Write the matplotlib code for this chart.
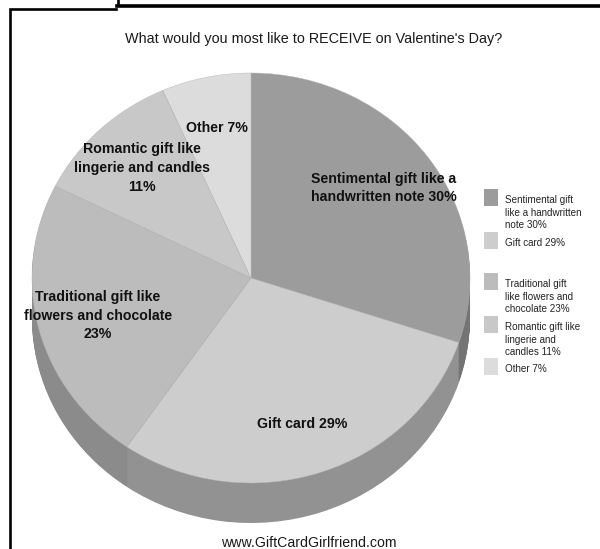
import numpy as np
import matplotlib
matplotlib.use("Agg")
import matplotlib.pyplot as plt
from matplotlib.patches import Rectangle

plt.rcParams['font.family'] = ['Liberation Sans', 'DejaVu Sans']

# 0. Data, slice sizes (labels are rounded)
shares = [30.1, 29.5, 22.8, 11.0, 6.6]
top_colors = ['#9c9c9c', '#cdcdcd', '#bcbcbc', '#c8c8c8', '#dcdcdc']
wall_colors = ['#747474', '#929292', '#8b8b8b', '#8e8e8e', '#a0a0a0']
legend_labels = ['Sentimental gift\nlike a handwritten\nnote 30%',
                 'Gift card 29%',
                 'Traditional gift\nlike flowers and\nchocolate 23%',
                 'Romantic gift like\nlingerie and\ncandles 11%',
                 'Other 7%']
pie_labels = ['Sentimental gift like a\nhandwritten note 30%',
              'Gift card 29%',
              'Traditional gift like\nflowers and chocolate\n23%',
              'Romantic gift like\nlingerie and candles\n11%',
              'Other 7%']
label_xy = [(384, 188), (302, 424), (98, 315.5), (142, 168), (217, 128)]
legend_y = [189, 232, 273, 316, 358]

# 1. Figure, full size overlay in pixels
W, H = 600, 549
fig = plt.figure(figsize=(W / 100, H / 100), dpi=100, facecolor='white')

# 2. Pie, flattened with auto aspect
cx, cy, rx, ry, depth = 251, 278, 219, 205, 40
left = cx - rx
bottom = H - (cy + ry + depth)
ax = fig.add_axes([left / W, bottom / H, 2 * rx / W, (2 * ry + depth) / H])
for d in np.arange(depth, 0, -1):
    ax.pie(shares, colors=wall_colors, startangle=90, counterclock=False,
           center=(0, -d / ry), radius=1, wedgeprops={'linewidth': 0.6, 'edgecolor': 'none'})
ax.pie(shares, colors=top_colors, startangle=90, counterclock=False,
       radius=1, wedgeprops={'linewidth': 0.3, 'edgecolor': '#b4b4b4'})
ax.set_aspect('auto')
ax.set_xlim(-1, 1)
ax.set_ylim(-1 - depth / ry, 1)

# 3. Overlay
ov = fig.add_axes([0, 0, 1, 1], facecolor='none')
ov.set_xlim(0, W)
ov.set_ylim(H, 0)
ov.axis('off')

ov.text(314, 39.5, "What would you most like to RECEIVE on Valentine's Day?",
        fontsize=10.4, color='#1a1a1a', ha='center', va='center')
ov.text(309, 543, 'www.GiftCardGirlfriend.com', fontsize=10.2, color='#1a1a1a',
        ha='center', va='center')

for txt, (x, y) in zip(pie_labels, label_xy):
    ov.text(x, y, txt, fontsize=10.2, fontweight='bold', color='#111111',
            ha='center', va='center', linespacing=1.42)

for lab, col, y in zip(legend_labels, top_colors, legend_y):
    ov.add_patch(Rectangle((484, y), 14, 17, facecolor=col, edgecolor='none'))
    ov.text(505, y + 6, lab, fontsize=7.1, color='#222222', ha='left', va='top',
            linespacing=1.33)

# 4. Black frame pieces from the page
ov.plot([10, 10, 116], [549, 8.5, 8.5], color='black', lw=1.9, solid_joinstyle='miter')
ov.plot([117.5, 117.5], [0, 5], color='black', lw=1.9)
ov.plot([116.5, 600], [5.5, 5.5], color='black', lw=2.6)

fig.savefig('out.png', dpi=100)
